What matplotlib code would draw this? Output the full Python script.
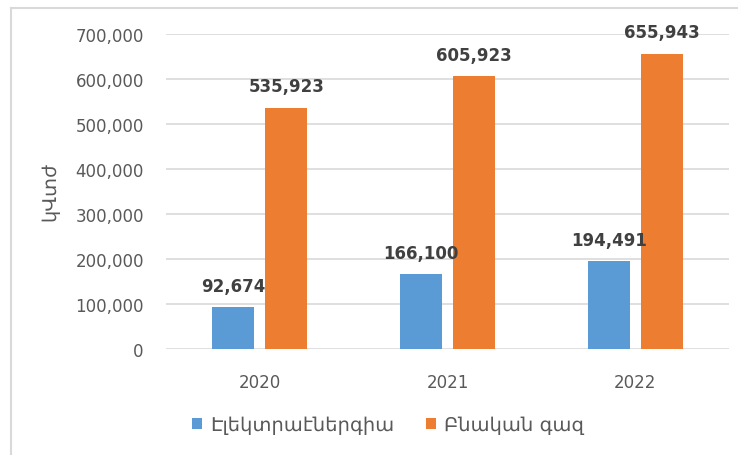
import numpy as np
import matplotlib
matplotlib.use("Agg")
import matplotlib.pyplot as plt
from matplotlib.lines import Line2D
from matplotlib.ticker import FuncFormatter

# data
years = ["2020", "2021", "2022"]
electricity = [92674, 166100, 194491]
natural_gas = [535923, 605923, 655943]
series_names = ["Էլեկտրաէներգիա", "Բնական գազ"]
y_label = "կՎտժ"

BLUE = "#5B9BD5"
ORANGE = "#ED7D31"
GRID = "#D9D9D9"
TICK_COLOR = "#595959"
LABEL_COLOR = "#404040"

plt.rcParams["font.family"] = ["DejaVu Sans"]

fig = plt.figure(figsize=(7.38, 4.56), dpi=100)
ax = fig.add_axes([0.2249, 0.2325, 0.7629, 0.6908])

x = np.arange(len(years))
width = 0.224
offset = 0.141

bars_e = ax.bar(x - offset, electricity, width, color=BLUE, label=series_names[0], zorder=3)
bars_g = ax.bar(x + offset, natural_gas, width, color=ORANGE, label=series_names[1], zorder=3)

for bars in (bars_e, bars_g):
    for b in bars:
        h = b.get_height()
        ax.annotate(f"{h:,.0f}", (b.get_x() + b.get_width() / 2, h),
                    xytext=(0, 9), textcoords="offset points",
                    ha="center", va="bottom", fontsize=12, fontweight="bold",
                    color=LABEL_COLOR, zorder=4)

ax.set_xlim(-0.5, len(years) - 0.5)
ax.set_ylim(0, 700000)
ax.set_yticks(np.arange(0, 700001, 100000))
ax.yaxis.set_major_formatter(FuncFormatter(lambda v, p: f"{v:,.0f}"))
ax.set_xticks(x)
ax.set_xticklabels(years)

ax.grid(axis="y", color=GRID, linewidth=1.2, zorder=0)
for s in ax.spines.values():
    s.set_visible(False)
ax.tick_params(axis="both", length=0, labelsize=12, colors=TICK_COLOR)
ax.tick_params(axis="y", pad=16)
ax.tick_params(axis="x", pad=17)

fig.text(50 / 738, 1 - 192 / 456, y_label, rotation=90, ha="center", va="center",
         fontsize=14, color=TICK_COLOR)

leg = fig.legend(loc="center", bbox_to_anchor=(388 / 738, 1 - 426 / 456), ncol=2,
                 frameon=False, fontsize=14, handlelength=0.52, handleheight=0.52,
                 handletextpad=0.4, columnspacing=1.65)
for t in leg.get_texts():
    t.set_color(TICK_COLOR)

# light chart-area border (left and top edges visible in the reference)
fig.add_artist(Line2D([11 / 738, 11 / 738], [0, 1 - 9 / 456], color=GRID, linewidth=1.5))
fig.add_artist(Line2D([11 / 738, 1], [1 - 9 / 456, 1 - 9 / 456], color=GRID, linewidth=1.5))

fig.savefig("out.png", dpi=100)
